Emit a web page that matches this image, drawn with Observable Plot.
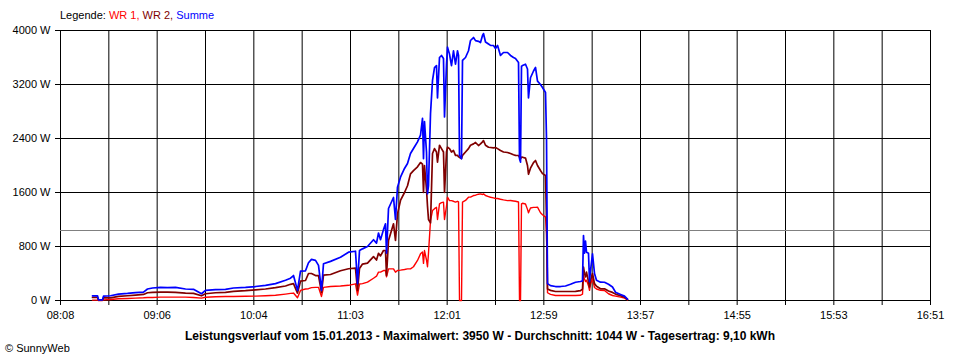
<!DOCTYPE html>
<html><head><meta charset="utf-8">
<script src="https://cdn.jsdelivr.net/npm/d3@7"></script>
<script src="https://cdn.jsdelivr.net/npm/@observablehq/plot@0.6"></script>
<style>
body{margin:0;background:#fff;}
#wrap{position:relative;width:960px;height:360px;font-family:"Liberation Sans",Arial,sans-serif;color:#000;}
#legend{position:absolute;left:60px;top:9px;font-size:11px;line-height:13px;white-space:nowrap;}
#caption{position:absolute;left:0;width:960px;text-align:center;top:329px;font-size:12px;line-height:14px;font-weight:bold;white-space:nowrap;}
#copy{position:absolute;left:5px;top:342px;font-size:11px;line-height:13px;white-space:nowrap;}
</style></head>
<body>
<div id="wrap">
  <div id="chart"></div>
  <div id="legend"></div>
  <div id="caption"></div>
  <div id="copy"></div>
</div>
<script>
// ---- data ----
const seriesNames = ["WR 1", "WR 2", "Summe"];
const seriesColors = ["#ff0000", "#800000", "#0000ff"];
const times = ["08:27:38","08:30:39","08:31:15","08:33:39","08:34:15","08:38:28","08:43:16","08:48:41","08:53:29","08:58:18",
"09:00:42","09:03:42","09:08:31","09:12:43","09:17:32","09:23:33","09:28:21","09:33:10","09:35:34","09:41:35",
"09:47:35","09:52:24","09:59:37","10:05:38","10:11:38","10:17:39","10:23:40","10:26:40","10:28:28","10:30:52",
"10:32:41","10:35:41","10:37:29","10:39:17","10:41:42","10:43:30","10:45:18","10:46:30","10:50:43","10:56:43",
"11:01:32","11:05:44","11:06:57","11:08:09","11:09:57","11:12:57","11:16:34","11:18:22","11:19:34","11:20:46",
"11:22:34","11:23:46","11:24:23","11:25:35","11:28:35","11:29:47","11:30:59","11:32:47","11:35:12","11:37:00",
"11:38:48","11:40:36","11:43:01","11:44:49","11:46:01","11:46:37","11:47:13","11:48:25","11:49:01","11:49:37",
"11:50:50","11:52:02","11:53:14","11:54:26","11:55:02","11:56:14","11:57:26","11:58:38","11:59:15","12:00:27",
"12:01:03","12:02:15","12:03:27","12:04:39","12:05:51","12:07:03","12:07:40","12:08:16","12:09:28","12:10:04",
"12:11:52","12:13:40","12:14:52","12:16:41","12:17:53","12:19:41","12:20:53","12:22:05","12:22:41","12:23:53",
"12:25:42","12:26:54","12:28:42","12:29:54","12:31:06","12:32:54","12:34:43","12:37:07","12:38:55","12:40:43",
"12:41:55","12:43:44","12:44:20","12:44:56","12:45:32","12:46:08","12:47:56","12:49:08","12:49:44","12:50:56",
"12:52:45","12:53:57","12:55:09","12:56:57","12:58:09","12:59:58","13:00:34","13:01:10","13:02:58","13:05:58",
"13:08:59","13:11:59","13:14:59","13:18:00","13:21:00","13:22:12","13:22:48","13:23:24","13:24:00","13:24:36",
"13:25:48","13:26:25","13:27:01","13:28:13","13:29:25","13:30:37","13:33:01","13:35:26","13:37:50","13:40:14",
"13:42:02","13:45:03","13:47:27","13:49:15"];
const summe = [70,70,10,10,65,70,95,105,118,125,
170,185,195,190,195,170,165,100,150,160,
165,185,195,207,225,250,300,330,370,150,
434,440,560,610,595,520,150,545,580,640,
716,730,250,740,765,800,900,850,1000,900,
1050,1136,700,1363,1526,1200,1679,1827,1956,2030,
2178,2252,2350,2450,2700,2100,2650,2200,1580,1700,
2770,3260,3450,3480,3000,3600,3630,3585,2720,3500,
3753,3650,3480,3700,3500,3700,3630,2150,2100,3556,
3600,3700,3852,3896,3850,3840,3822,3926,3955,3830,
3800,3780,3778,3733,3780,3630,3674,3674,3630,3600,
3585,3526,2100,2050,3470,3480,3500,3430,3000,3300,
3400,3452,3250,3200,3156,3081,2400,250,220,207,
207,215,240,270,281,290,963,700,880,716,
700,280,444,691,400,300,271,270,240,200,
123,90,65,20];
const wr2 = [45,45,5,5,40,40,60,70,80,90,
115,120,125,125,120,110,105,70,100,115,
120,135,145,158,170,190,215,240,250,110,
286,296,400,400,370,370,120,375,385,440,
470,480,150,474,540,553,650,600,700,660,
741,741,370,890,1136,890,1284,1482,1600,1700,
1876,1925,1980,2044,2020,1600,2000,1650,1400,1200,
1150,2178,2250,2200,2050,2300,2250,2200,1600,2200,
2271,2250,2200,2222,2150,2150,2130,2120,2104,2150,
2200,2250,2300,2320,2341,2296,2320,2350,2370,2300,
2270,2267,2260,2267,2250,2222,2200,2193,2178,2160,
2150,2148,2123,2100,2123,2123,2110,2000,1870,1960,
2044,2074,2000,1926,1880,1852,1200,170,150,133,
133,133,133,135,145,170,494,400,350,420,
280,200,300,400,250,210,173,173,140,120,
95,70,50,15];
const wr1 = [5,5,0,0,10,15,25,30,35,40,
45,45,50,50,50,50,45,35,48,55,
60,60,62,65,70,78,95,105,110,40,
150,170,175,190,195,195,60,195,207,215,
225,247,80,245,250,272,330,360,420,420,
444,444,350,469,469,420,444,450,460,469,
469,500,593,691,720,550,740,600,500,700,
1185,1333,1360,1380,1200,1432,1450,1457,1200,1400,
1531,1480,1480,1470,1457,1470,1460,0,0,1457,
1482,1531,1531,1555,1560,1575,1580,1570,1580,1555,
1540,1530,1520,1511,1511,1500,1490,1480,1482,1475,
1470,1460,0,0,1432,1440,1430,1350,1300,1370,
1380,1380,1383,1300,1270,1235,1000,115,90,74,
74,74,74,74,78,95,370,320,280,300,
220,150,240,321,193,170,150,148,100,74,
65,50,35,10];
const averageW = 1044;
const xLabels = ["08:08","09:06","10:04","11:03","12:01","12:59","13:57","14:55","15:53","16:51"];
const xStart = "08:08:24", xEnd = "16:51:24";
const yTicks = [0, 800, 1600, 2400, 3200, 4000];
const captionText = "Leistungsverlauf vom 15.01.2013 - Maximalwert: 3950 W - Durchschnitt: 1044 W - Tagesertrag: 9,10 kWh";
const copyText = "© SunnyWeb";

// ---- build ----
const toMin = s => { const [h, m, sec] = s.split(":").map(Number); return h * 60 + m + (sec || 0) / 60; };
const rows = times.map((t, i) => ({t: toMin(t), w1: wr1[i], w2: wr2[i], sum: summe[i]}));
const x0 = toMin(xStart), x1 = toMin(xEnd);
const nGrid = (xLabels.length - 1) * 2;
const xTicks = d3.range(nGrid + 1).map(i => x0 + i * (x1 - x0) / nGrid);
const xFmt = (d, i) => (i % 2 === 0 ? xLabels[i / 2] : "");

const chart = Plot.plot({
  width: 960, height: 360,
  marginLeft: 60, marginRight: 30, marginTop: 30, marginBottom: 60,
  style: {fontFamily: '"Liberation Sans", Arial, sans-serif', fontSize: "11px", background: "#fff", color: "#000"},
  x: {domain: [x0, x1], type: "linear"},
  y: {domain: [0, 4000]},
  marks: [
    Plot.gridX(xTicks, {stroke: "#000", strokeOpacity: 1, strokeWidth: 1}),
    Plot.gridY(yTicks, {stroke: "#000", strokeOpacity: 1, strokeWidth: 1}),
    Plot.axisX(xTicks, {tickSize: 5, tickPadding: 6, tickFormat: xFmt, label: null, fontSize: 11}),
    Plot.axisY(yTicks, {tickSize: 5, tickPadding: 5, tickFormat: d => d + " W", label: null, fontSize: 11}),
    Plot.ruleY([averageW], {stroke: "#808080", strokeWidth: 1, shapeRendering: "crispEdges"}),
    Plot.line(rows, {x: "t", y: "w1", stroke: seriesColors[0], strokeWidth: 1.4}),
    Plot.line(rows, {x: "t", y: "w2", stroke: seriesColors[1], strokeWidth: 1.7}),
    Plot.line(rows, {x: "t", y: "sum", stroke: seriesColors[2], strokeWidth: 1.7})
  ]
});
document.getElementById("chart").appendChild(chart);

const leg = document.getElementById("legend");
leg.appendChild(document.createTextNode("Legende: "));
seriesNames.forEach((n, i) => {
  const s = document.createElement("span");
  s.style.color = seriesColors[i];
  s.textContent = n + (i < seriesNames.length - 1 ? ", " : "");
  leg.appendChild(s);
});
document.getElementById("caption").textContent = captionText;
document.getElementById("copy").textContent = copyText;
</script>
</body></html>
